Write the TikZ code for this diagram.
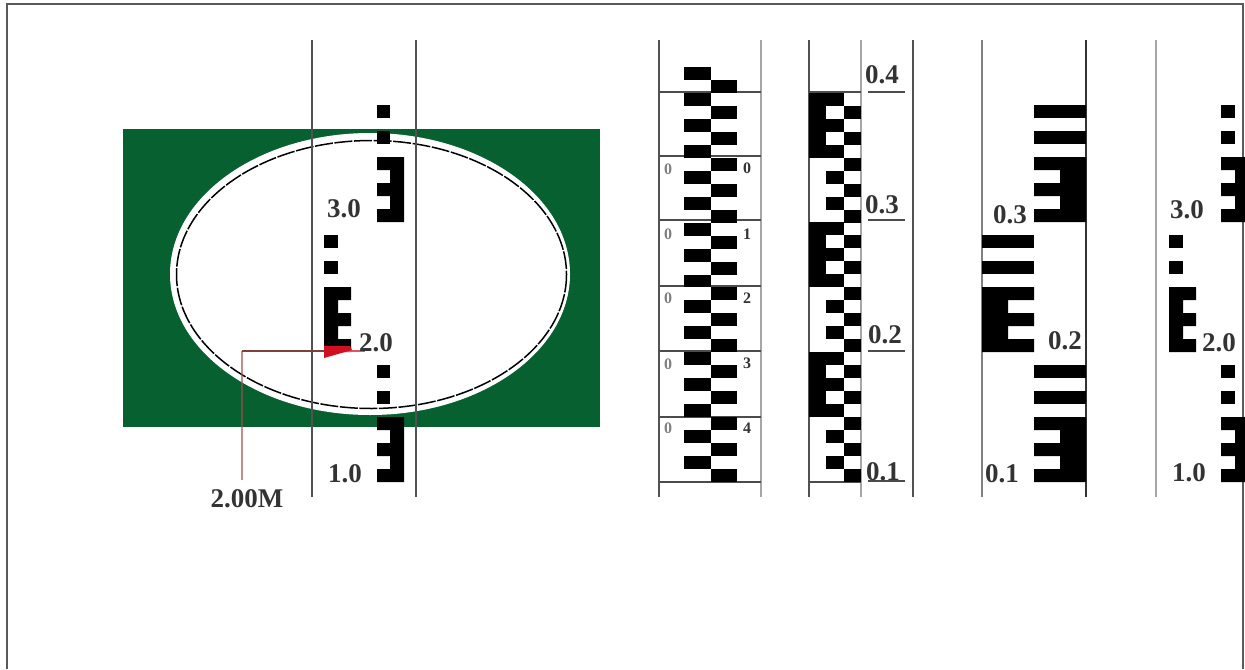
\documentclass[tikz,border=0pt]{standalone}
\usepackage{fontspec}
\setmainfont{Liberation Serif}
\definecolor{fieldgreen}{HTML}{06602F}
\definecolor{inktext}{HTML}{333333}
\definecolor{leadercol}{HTML}{A05050}
\definecolor{markred}{HTML}{D01020}
% 3-shape: left x, top y, arm end, spine end
\newcommand{\threeshape}[4]{%
  \fill[black] (#1,#2) -- (#4,#2) -- (#4,#2+65) -- (#1,#2+65) -- (#1,#2+52) -- (#3,#2+52) -- (#3,#2+39) -- (#1,#2+39)
   -- (#1,#2+26) -- (#3,#2+26) -- (#3,#2+13) -- (#1,#2+13) -- cycle;}
% E-shape: left x, top y, spine end, arm end
\newcommand{\eshape}[4]{%
  \fill[black] (#1,#2) -- (#4,#2) -- (#4,#2+13) -- (#3,#2+13) -- (#3,#2+26) -- (#4,#2+26) -- (#4,#2+39) -- (#3,#2+39)
   -- (#3,#2+52) -- (#4,#2+52) -- (#4,#2+65) -- (#1,#2+65) -- cycle;}
\newcommand{\escale}[8]{%
  % #1 rx0 #2 rx1(bar end) #3 rx arm end #4 rx spine end #5 lx0 #6 lx spine #7 lx arm #8 lx bar end
  \foreach \yy in {105,131,365,391} {\fill[black] (#1,\yy) rectangle (#2,\yy+13);}
  \foreach \yy in {235,261} {\fill[black] (#5,\yy) rectangle (#8,\yy+13);}
  \threeshape{#1}{157}{#3}{#4}
  \threeshape{#1}{417}{#3}{#4}
  \eshape{#5}{287}{#6}{#7}
}
\tikzset{
  ruledark/.style={draw=black!68,line width=0.75pt},
  rulelight/.style={draw=black!35,line width=0.75pt},
  tickline/.style={draw=black!70,line width=0.6pt},
  biglabel/.style={inner sep=0pt,text=inktext,font=\fontsize{13.5}{14}\selectfont\bfseries},
  smalllabel/.style={inner sep=0pt,text=inktext,font=\fontsize{8}{9}\selectfont\bfseries},
  faintlabel/.style={inner sep=0pt,text=black!50,font=\fontsize{8}{9}\selectfont\bfseries},
}
\begin{document}
\begin{tikzpicture}[x=0.5pt,y=-0.5pt]
\clip (0,0) rectangle (1245,669);
\fill[white] (0,0) rectangle (1245,669);
% frame
\draw[draw=black!65,line width=1.1pt] (7,669) -- (7,4) -- (1243,4) -- (1243,669);
% green field with opening
\fill[fieldgreen] (123,129) rectangle (600,427);
\fill[white] (370,274) ellipse [x radius=200,y radius=141];
\draw[black,line width=0.75pt,dash pattern=on 9pt off 0.8pt] (371.5,274.5) ellipse [x radius=195,y radius=134];
% leader
\coordinate (bend) at (242,351);
\coordinate (tip) at (365,351);
\coordinate (foot) at (242,480);
% rule verticals
\draw[ruledark] (312,40) -- (312,497);
\draw[ruledark] (416,40) -- (416,497);
\draw[ruledark] (659,40) -- (659,497);
\draw[rulelight] (761,40) -- (761,497);
\draw[ruledark] (809,40) -- (809,497);
\draw[draw=black!35,line width=1.2pt] (861,40) -- (861,497);
\draw[ruledark] (913,40) -- (913,497);
\draw[draw=black!50,line width=0.75pt] (982,40) -- (982,497);
\draw[draw=black!80,line width=0.75pt] (1086,40) -- (1086,497);
\draw[rulelight] (1156,40) -- (1156,497);
% rule 2 ticks
\foreach \yy in {92,156,220,286,351,417,482} {\draw[tickline] (659,\yy) -- (761,\yy);}
% rule 2 checker
\foreach \k in {0,2,...,30} {\fill[black] (684,67+\k*12.97) rectangle (711,67+\k*12.97+12.97);}
\foreach \k in {1,3,...,31} {\fill[black] (711,67+\k*12.97) rectangle (737,67+\k*12.97+12.97);}
% rule 3
\draw[tickline] (809,92) -- (861,92);
\draw[tickline] (809,482) -- (861,482);
\foreach \yy in {92,220,351,481} {\draw[tickline] (868,\yy) -- (905,\yy);}
\foreach \yt in {93,222,352} {
  \fill[black] (809,\yt) rectangle (826,\yt+65);
  \foreach \o in {0,26,52} {\fill[black] (826,\yt+\o) rectangle (844,\yt+\o+13);}
  \foreach \o in {13,39} {\fill[black] (844,\yt+\o) rectangle (861,\yt+\o+13);}
}
\foreach \yt in {158,287,417} {
  \foreach \o in {0,26,52} {\fill[black] (844,\yt+\o) rectangle (861,\yt+\o+13);}
  \foreach \o in {13,39} {\fill[black] (826,\yt+\o) rectangle (844,\yt+\o+13);}
}
% E scales
\escale{377}{390}{390}{404}{324}{338}{351}{338}
\escale{1034}{1086}{1060}{1086}{982}{1008}{1034}{1034}
\escale{1221}{1235}{1235}{1250}{1169}{1183}{1196}{1183}
% leader on top
\draw[leadercol,line width=0.6pt,opacity=0.65] (foot) -- (bend);
\draw[leadercol!80!black,line width=0.6pt] (bend) -- (324,351);
\draw[markred!70!white,line width=0.6pt] (324,351) -- (tip);
\fill[markred] (324,346) -- (350,346) -- (352,350) -- (324,358) -- cycle;
% labels: rule 1
\node[biglabel] (a3) at (344,209) {3.0};
\node[biglabel] (a2) at (376,343) {2.0};
\node[biglabel] (a1) at (345,474) {1.0};
\node[biglabel] (lab) at (247,499) {2.00M};
% labels: rule 2
\node[faintlabel] (l0) at (668,169) {0};
\node[faintlabel] (l1) at (668,234) {0};
\node[faintlabel] (l2) at (668,298) {0};
\node[faintlabel] (l3) at (668,364) {0};
\node[faintlabel] (l4) at (668,428) {0};
\node[smalllabel] (r0) at (747,168) {0};
\node[smalllabel] (r1) at (747,234) {1};
\node[smalllabel] (r2) at (747,298) {2};
\node[smalllabel] (r3) at (747,363) {3};
\node[smalllabel] (r4) at (747,428) {4};
% labels: rule 3
\node[biglabel] (b4) at (882,75) {0.4};
\node[biglabel] (b3) at (882,205) {0.3};
\node[biglabel] (b2) at (885,335) {0.2};
\node[biglabel] (b1) at (883,472) {0.1};
% labels: rule 4
\node[biglabel] (c3) at (1010,215) {0.3};
\node[biglabel] (c2) at (1065,341) {0.2};
\node[biglabel] (c1) at (1002,474) {0.1};
% labels: rule 5
\node[biglabel] (d3) at (1187,210) {3.0};
\node[biglabel] (d2) at (1219,343) {2.0};
\node[biglabel] (d1) at (1189,473) {1.0};
\end{tikzpicture}
\end{document}
